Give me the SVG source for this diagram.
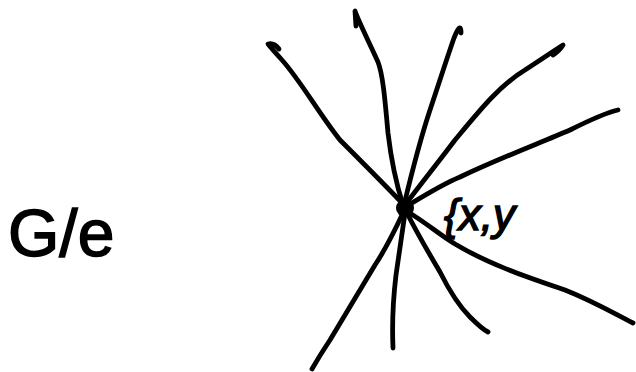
<svg xmlns="http://www.w3.org/2000/svg" width="636" height="372" viewBox="0 0 636 372">
<style>
.e{fill:none;stroke:#000;stroke-width:4.8;stroke-linecap:round;stroke-linejoin:round}
.t{font-family:"Liberation Sans",Arial,sans-serif;fill:#000;stroke:#000;stroke-width:1.5}
</style>
<rect width="636" height="372" fill="#fff"/>
<g id="connectors">
<path class="e" d="M404,205 C385,185 360,160 340,140 C320,115 300,80 282,60 C275,52 270,47 268,44 C272,43 276,45 279,49"/>
<path class="e" d="M403,205 C395,180 390,150 388,133 C385,100 383,75 378,62 C368,40 358,20 355,11 L356,26"/>
<path class="e" d="M404,205 C410,180 420,140 430,110 C440,80 448,55 454,38 C458,28 461,24 461,33"/>
<path class="e" d="M405,205 C420,185 440,160 455,140 C480,110 500,85 525,70 C545,57 555,50 563,45 C560,50 556,53 553,55"/>
<path class="e" d="M407,206 C425,195 445,183 460,177 C500,158 540,143 570,130 C590,120 605,113 618,110"/>
<path class="e" d="M408,212 C425,222 440,235 455,244 C490,265 530,278 565,290 C595,302 615,314 633,323"/>
<path class="e" d="M407,213 C418,235 430,255 440,272 C450,292 460,307 470,317 C478,325 484,330 488,332"/>
<path class="e" d="M405,213 C402,235 399,255 396,275 C393,300 392,325 393,348"/>
<path class="e" d="M403,213 C395,230 385,250 375,265 C360,290 345,315 330,340 C322,352 316,362 312,369"/>
</g>
<g id="node-xy">
<circle cx="405" cy="208" r="9" fill="#000"/>
<text class="t" x="444" y="230" font-size="44" font-style="italic">{x,y</text>
</g>
<g id="label-Ge">
<text class="t" x="8" y="256" font-size="66">G/e</text>
</g>
</svg>
